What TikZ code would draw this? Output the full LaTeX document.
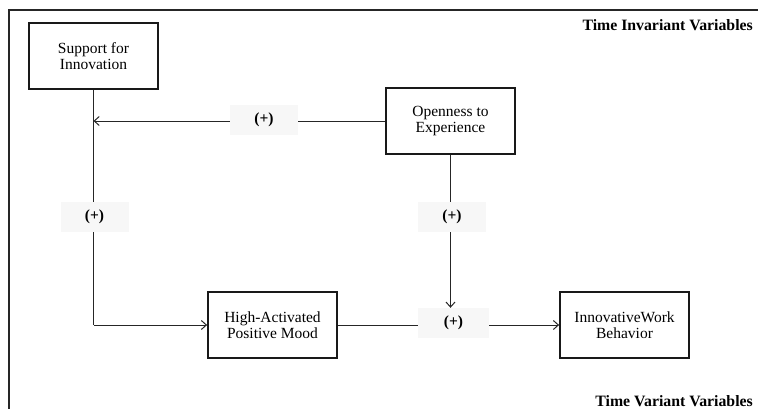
\documentclass[tikz,border=0pt]{standalone}
\usepackage{fontspec}
\setmainfont{Liberation Serif}
\usetikzlibrary{arrows.meta}
\begin{document}
\begin{tikzpicture}[x=1pt,y=-1pt,
  varbox/.style={draw=black!90, line width=1.8pt, minimum width=129pt, minimum height=66pt, inner sep=0pt, align=center, font=\fontsize{15.5}{16}\selectfont},
  plus/.style={fill=black!3, minimum width=68pt, minimum height=30pt, inner sep=0pt, font=\bfseries\fontsize{15.5}{16}\selectfont},
  conn/.style={line width=0.8pt, black!85},
  arr/.style={conn, -{Straight Barb[length=5pt,width=9pt,line width=1pt]}},
  title/.style={font=\bfseries\fontsize{15.8}{16}\selectfont, anchor=base east, inner sep=0pt}
]
\useasboundingbox (0,0) rectangle (758,409);
\draw[line width=1.8pt, black!85] (9.3,409) -- (9.3,10.3) -- (758,10.3);

\node[varbox] (sup) at (93.5,56) {Support for\\Innovation};
\node[varbox] (open) at (450.5,121) {Openness to\\Experience};
\node[varbox] (high) at (272.5,325) {High-Activated\\Positive Mood};
\node[varbox] (iwb) at (624.5,325) {InnovativeWork\\Behavior};

\node[title] (ti) at (753,31) {Time Invariant Variables};
\node[title] (tv) at (753,406) {Time Variant Variables};

\node[plus, minimum width=71pt] (p4) at (453.5,323) {(+)};

\coordinate (c1) at (sup.south |- open.west);
\coordinate (c2) at (sup.south |- high.west);

\draw[conn] (sup.south) -- (c2);
\draw[arr] (c2) -- (high.west);
\draw[arr] (open.west) -- (c1);
\draw[arr] (open.south) -- (open.south |- p4.north);
\draw[conn] (high.east) -- (high.east -| p4.west);
\draw[arr] (p4.east |- iwb.west) -- (iwb.west);

\node[plus] (p1) at (264,120) {(+)};
\node[plus] (p2) at (94.5,217) {(+)};
\node[plus] (p3) at (452,217) {(+)};
\end{tikzpicture}
\end{document}
